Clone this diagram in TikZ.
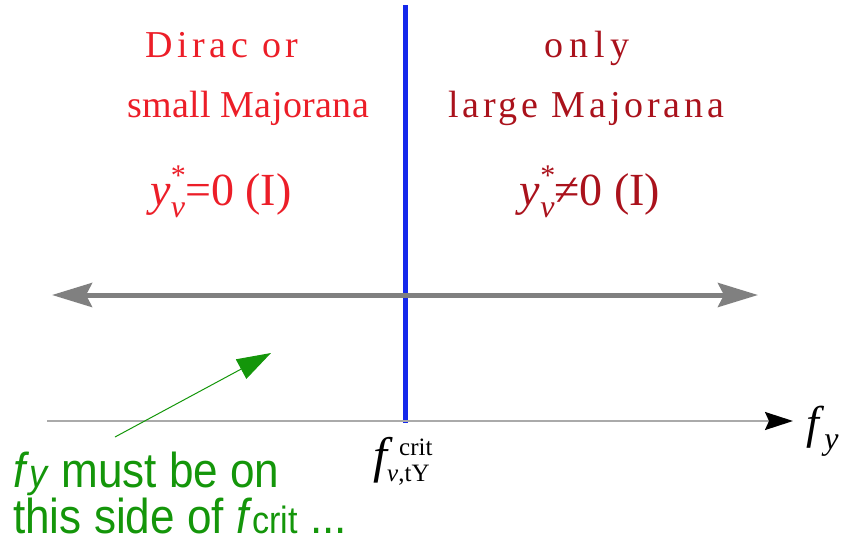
\documentclass[tikz,border=0pt]{standalone}
\usepackage{fontspec}
\setmainfont{Liberation Serif}
\newfontfamily\greensans{Liberation Sans}
\usetikzlibrary{arrows.meta}
\definecolor{lred}{RGB}{236,30,40}
\definecolor{dred}{RGB}{170,18,28}
\definecolor{myblue}{RGB}{20,40,235}
\definecolor{mygreen}{RGB}{20,150,10}
\definecolor{mygray}{RGB}{128,128,128}
\definecolor{axgray}{RGB}{170,170,170}
\newcommand\ynu{\textit{y}\rlap{\raisebox{0.42em}{\fontsize{30}{30}\selectfont *}}\raisebox{-0.28em}{\fontsize{32}{32}\selectfont\itshape ν}}
\begin{document}
\begin{tikzpicture}[x=1pt,y=-1pt,
  regtext/.style={inner sep=0pt, anchor=base},
  greentext/.style={font=\greensans\fontsize{49}{49}\selectfont, text=mygreen, inner sep=0pt, anchor=base west}]
\useasboundingbox (0,0) rectangle (853,546);
% blue vertical line
\coordinate (btop) at (405,5);
\coordinate (bbot) at (405,423);
\draw[myblue, line width=5pt] (btop) -- (bbot);
% axis
\coordinate (axl) at (47,421);
\coordinate (axr) at (793,421);
\draw[axgray, line width=2pt, -{Stealth[length=28pt,width=18pt,inset=4pt,black]}] (axl) -- (axr);
\node[anchor=base west, inner sep=0pt, font=\fontsize{46}{46}\selectfont] (fy) at (806,438) {\textit{f}\raisebox{-0.25em}{\fontsize{32}{32}\selectfont\itshape y}};
% gray double arrow
\coordinate (gl) at (52,295);
\coordinate (gr) at (758,295);
\draw[mygray, line width=5pt, {Stealth[length=40pt,width=24pt,inset=6pt]}-{Stealth[length=40pt,width=24pt,inset=6pt]}] (gl) -- (gr);
% left texts
\node[regtext, text=lred, font=\fontsize{38}{38}\selectfont\addfontfeatures{LetterSpace=12}] (l1) at (222,57) {Dirac or};
\node[regtext, text=lred, font=\fontsize{38}{38}\selectfont\addfontfeatures{LetterSpace=1}] (l2) at (248,117) {small Majorana};
\node[regtext, text=lred, font=\fontsize{46}{46}\selectfont] (l3) at (221,205) {\ynu=0 (I)};
% right texts
\node[regtext, text=dred, font=\fontsize{38}{38}\selectfont\addfontfeatures{LetterSpace=16}] (r1) at (587,57) {only};
\node[regtext, text=dred, font=\fontsize{38}{38}\selectfont\addfontfeatures{LetterSpace=10}] (r2) at (586,117) {large Majorana};
\node[regtext, text=dred, font=\fontsize{46}{46}\selectfont] (r3) at (590,205) {\ynu≠0 (I)};
% f crit label
\node[inner sep=0pt, anchor=base, font=\fontsize{50}{50}\selectfont\itshape] (fc) at (380,472) {f};
\node[inner sep=0pt, anchor=base west, font=\fontsize{25}{25}\selectfont] (fcs) at (399,455) {crit};
\node[inner sep=0pt, anchor=base west, font=\fontsize{25}{25}\selectfont] (fcb) at (387,481) {\textit{ν},tY};
% green annotation
\node[greentext] (g1) at (13,487) {\scalebox{0.9}[1]{\textit{f}{\fontsize{40}{40}\selectfont\textit{y}} must be on}};
\node[greentext] (g2) at (13,533) {\scalebox{0.9}[1]{this side of \textit{f}{\fontsize{38}{38}\selectfont crit} ...}};
\coordinate (gs) at (115,437);
\coordinate (ge) at (271,353);
\draw[mygreen, line width=1pt, -{Triangle[length=34pt,width=22pt]}] (gs) -- (ge);
\end{tikzpicture}
\end{document}
